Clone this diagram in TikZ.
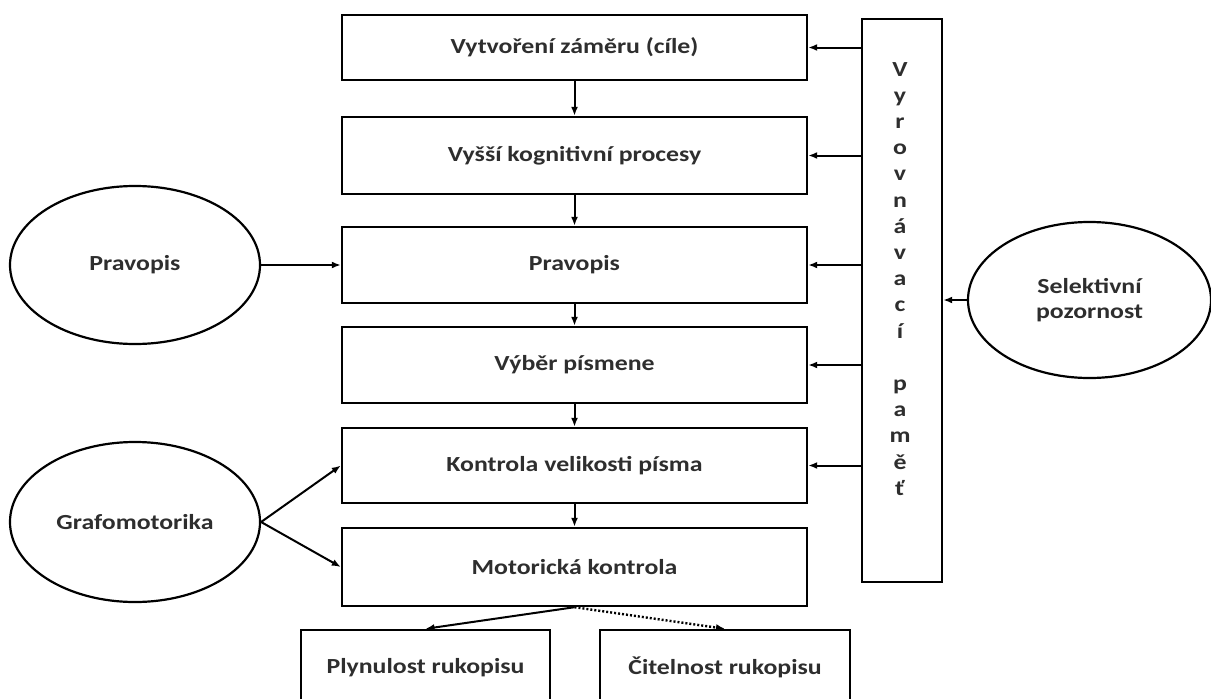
\documentclass[tikz,border=0pt]{standalone}
\usepackage{fontspec}
\setmainfont{Carlito}[FakeStretch=1.2]
\usetikzlibrary{arrows.meta,shapes.geometric}
\definecolor{txt}{HTML}{2E2E2E}
\begin{document}
\begin{tikzpicture}[x=1pt,y=-1pt,
  lbl/.style={text=txt, font=\fontsize{21.5}{26}\selectfont\bfseries},
  box/.style={lbl, draw=black, line width=2.4pt, rectangle, inner sep=0pt, minimum width=465pt},
  sbox/.style={lbl, draw=black, line width=2.4pt, rectangle, inner sep=0pt, minimum height=75pt},
  ell/.style={lbl, draw=black, line width=2.2pt, ellipse, inner sep=0pt, align=center},
  arr/.style={line width=2pt, -{Latex[length=9pt,width=7pt]}},
]
\useasboundingbox (0,0) rectangle (1211,699);

% main column
\node[box, minimum height=65pt] (m1) at (574.5,47.5) {Vytvoření záměru (cíle)};
\node[box, minimum height=77pt] (m2) at (574.5,155.5) {Vyšší kognitivní procesy};
\node[box, minimum height=76pt] (m3) at (574.5,265) {Pravopis};
\node[box, minimum height=76pt] (m4) at (574.5,365) {Výběr písmene};
\node[box, minimum height=75pt] (m5) at (574.5,465.5) {Kontrola velikosti písma};
\node[box, minimum height=78pt] (m6) at (574.5,567) {Motorická kontrola};

% bottom boxes
\node[sbox, minimum width=249pt] (pl) at (425.5,667.5) {Plynulost rukopisu};
\node[sbox, minimum width=250pt] (ct) at (725,667.5) {Čitelnost rukopisu};

% vertical box
\node[draw=black, line width=2.4pt, rectangle, inner sep=0pt, minimum width=80pt, minimum height=563pt] (vb) at (902,300.5) {};
\node[lbl, font=\fontsize{21.5}{26.2}\selectfont\bfseries, align=center, inner sep=0pt, anchor=north] (vt) at (900,62)
  {V\\y\\r\\o\\v\\n\\á\\v\\a\\c\\í\\[26.2pt]p\\a\\m\\ě\\ť};

% ellipses
\node[ell, minimum width=250pt, minimum height=158pt] (pr) at (135,265) {Pravopis};
\node[ell, minimum width=250pt, minimum height=160pt] (gr) at (135,522) {Grafomotorika};
\node[ell, minimum width=243pt, minimum height=156pt] (sel) at (1089.5,300) {Selektivní\\[-0.5pt]pozornost};

% vertical flow
\draw[arr] (m1) -- (m2);
\draw[arr] (m2) -- (m3);
\draw[arr] (m3) -- (m4);
\draw[arr] (m4) -- (m5);
\draw[arr] (m5) -- (m6);

% from memory box
\foreach \m in {m1,m2,m3,m4,m5}
  \draw[arr] (\m.east -| vb.west) -- (\m.east);
\draw[arr] (sel.west) -- (sel.west -| vb.east);

% from ellipses
\draw[arr] (pr.east) -- (m3.west);
\draw[arr] (gr.east) -- (m5.west);
\draw[arr] (gr.east) -- (m6.west);

% outputs
\draw[arr] (m6.south) -- (pl.north);
\draw[arr, dotted, line width=2.4pt] (m6.south) -- (ct.north);
\end{tikzpicture}
\end{document}
